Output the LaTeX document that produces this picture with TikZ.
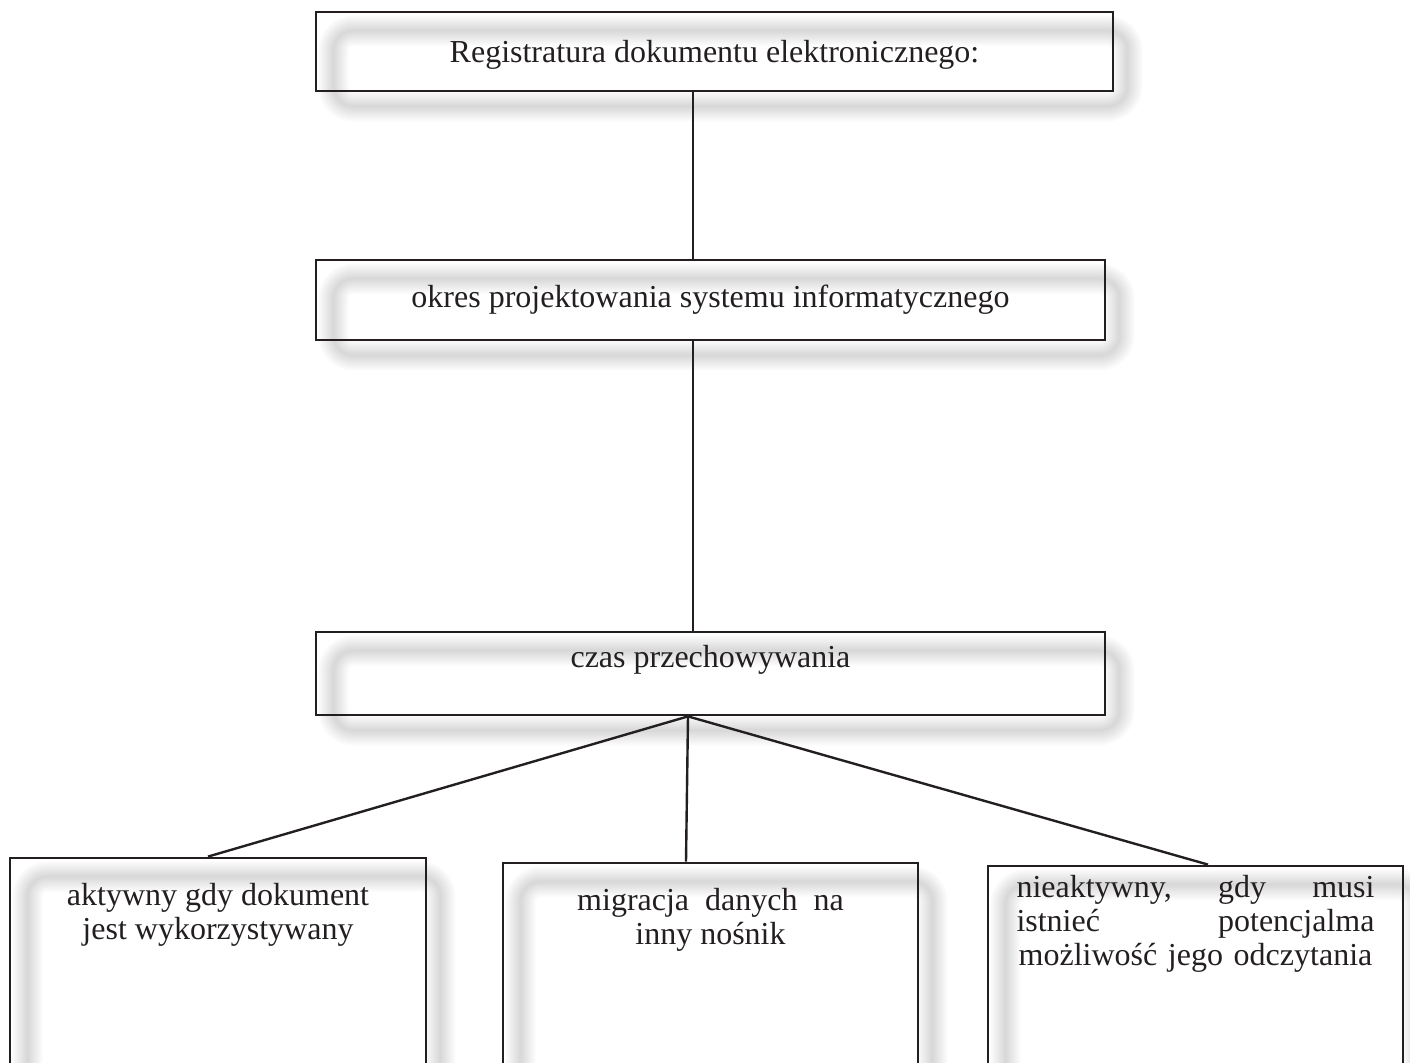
\documentclass[tikz,border=0pt]{standalone}
\usepackage{fontspec}
\setmainfont{Liberation Serif}
\usetikzlibrary{positioning, backgrounds}
\definecolor{ink}{RGB}{35,31,32}

\begin{document}
\begin{tikzpicture}[x=0.5pt, y=-0.5pt,
        b/.style={draw=ink, line width=1.4pt, inner sep=0pt},
        t/.style={inner sep=0pt, text=ink, font=\fontsize{16}{17}\selectfont, align=center},
        e/.style={draw=ink, line width=1.2pt},
        sh/.style={draw=black, line width=#1, rounded corners=10pt, opacity=0.018}]
        \useasboundingbox (0,0) rectangle (1410,1063);
        \clip (0,0) rectangle (1410,1063);

        \draw node[b, minimum width=398.5pt, minimum height=39.5pt] (b1) at (714.5,51.5) {}
              node[b, minimum width=394.5pt, minimum height=40pt] (b2) at (710.5,300) {}
              node[b, minimum width=394.5pt, minimum height=41.5pt] (b3) at (710.5,673.5) {};
        \draw node[b, minimum width=208pt, minimum height=116pt] (b4) at (218,974) {}
              node[b, minimum width=207.5pt, minimum height=113.5pt] (b5) at (710.5,976.5) {}
              node[b, minimum width=207.5pt, minimum height=112pt] (b6) at (1195.5,978) {};

        \node[t] (l1) at ([yshift=-1.5pt]b1.center) {Registratura dokumentu elektronicznego:};
        \node[t] (l2) at (b2) {okres projektowania systemu informatycznego};
        \node[t, below=7pt of b3.north] (l3) {czas przechowywania};
        \node[t, below=13pt of b4.north] (l4) {aktywny gdy dokument\\jest wykorzystywany};
        \node[t, below=13pt of b5.north] (l5) {migracja~ danych~ na\\inny nośnik};
        \node[t, text width=179pt, below=5pt of b6.north] (l6)
              {nieaktywny,\hfill gdy\hfill musi\\istnieć\hfill potencjalma\\możliwość jego odczytania};

        % cienie
        \begin{scope}[on background layer]
        \foreach \i in {1,...,6}
        \foreach \w in {15pt,13pt,11pt,9pt,7pt,5pt,3pt,1.5pt}
        \draw[sh=\w] ([shift={(19,20)}]b\i.north west) rectangle ([shift={(13,14)}]b\i.south east);
        \end{scope}

        \coordinate (sp) at (693,0);
        \coordinate (hub) at (688,0);
        \coordinate (k4) at (208,0);
        \coordinate (k5) at (686,0);
        \coordinate (k6) at (1208,0);
        \draw[e] (b1.south -| sp) -- (b2.north -| sp) (b2.south -| sp) -- (b3.north -| sp);
        \foreach \i in {4,5,6}
        \draw[e] (b3.south -| hub) -- (b\i.north -| k\i);
\end{tikzpicture}
\end{document}
